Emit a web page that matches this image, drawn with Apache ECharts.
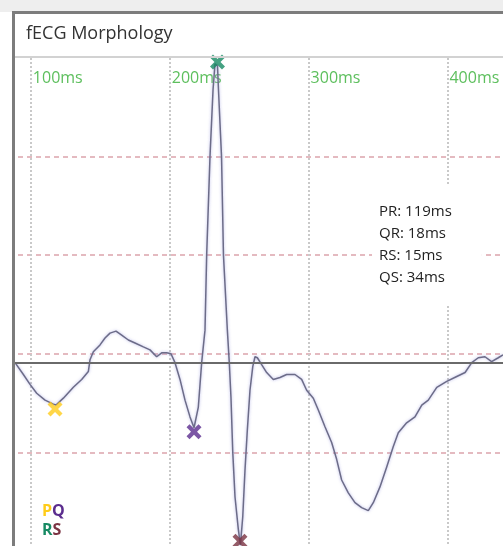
<!DOCTYPE html>
<html>
<head>
<meta charset="utf-8">
<script src="https://cdn.jsdelivr.net/npm/echarts@6/dist/echarts.min.js"></script>
<style>
  html, body { margin: 0; padding: 0; background: #fff; }
  #main { width: 503px; height: 546px; }
</style>
</head>
<body>
<div id="main"></div>
<script>
// fECG 파형 (시간 ms / 진폭, 기준선 = -9)
var timeMs = [88.6, 94.6, 99.4, 104.2, 110.2, 116.2, 118.1, 123.4, 130.6, 136.6,
  141.4, 142.6, 145.0, 149.8, 153.4, 157.0, 161.3, 165.4, 170.2, 175.0,
  181.0, 185.8, 190.6, 194.2, 197.8, 200.9, 203.8, 207.4, 211.0, 214.6,
  217.5, 220.6, 223.0, 225.4, 226.6, 229.0, 231.2, 232.6, 234.4, 235.1,
  237.3, 238.7, 241.5, 242.9, 244.1, 245.4, 247.0, 249.4, 250.9, 252.6,
  254.2, 255.9, 257.8, 259.8, 261.4, 263.1, 266.2, 269.8, 274.6, 279.4,
  284.2, 290.2, 295.0, 298.6, 303.4, 307.0, 311.8, 316.6, 320.2, 323.8,
  328.6, 333.4, 338.2, 343.0, 346.6, 351.4, 356.2, 361.0, 364.6, 370.6,
  376.6, 381.5, 386.2, 392.3, 399.5, 406.7, 412.7, 417.5, 422.2, 427.0,
  431.8, 436.6, 440.0];
var amplitude = [-9, -21, -31, -40, -47, -51, -52, -45, -34, -26,
  -18, -6, 2, 9, 16, 21, 23, 19, 14, 11,
  7, 4, -3, 1, 1, 0, -9, -26, -47, -64,
  -75, -54, -9, 24, 100, 200, 268, 294, 292, 268,
  200, 100, 24, -9, -44, -100, -145, -178, -194, -165,
  -118, -77, -37, -13, -3, -4, -11, -19, -26, -24,
  -21, -21, -26, -37, -45, -57, -74, -90, -107, -128,
  -141, -151, -156, -159, -151, -135, -115, -94, -80, -70,
  -64, -52, -47, -34, -28, -23, -19, -9, -4, -3,
  -8, -4, -1];
var baseline = -9;

var markNames = ['P', 'Q', 'R', 'S'];
var markTimes = [117.4, 217.5, 234.4, 250.6];
var markValues = [-56, -79, 296, -190];
var markColors = ['#ffcc1a', '#5b2d8e', '#178a63', '#7b3342'];

var intervalNames = ['PR', 'QR', 'RS', 'QS'];
var intervalValues = [119, 18, 15, 34];

var myChart = echarts.init(document.getElementById('main'));

var lineData = timeMs.map(function (t, i) { return [t, amplitude[i]]; });
var markSeries = markNames.map(function (n, i) {
    return {
        name: n,
        type: 'scatter',
        symbol: 'path://M2,0 L5,3 L8,0 L10,2 L7,5 L10,8 L8,10 L5,7 L2,10 L0,8 L3,5 L0,2 Z',
        symbolSize: 15,
        itemStyle: { color: markColors[i] },
        z: 5,
        data: [[markTimes[i], markValues[i]]]
    };
});

var intervalText = intervalNames.map(function (n, i) {
    return n + ': ' + intervalValues[i] + 'ms';
}).join('\n');

var option = {
    backgroundColor: '#fff',
    animation: false,
    title: {
        text: 'fECG Morphology',
        left: 26, top: 25, padding: 0,
        textStyle: { fontFamily: 'Open Sans', fontSize: 18, fontWeight: 'normal', color: '#333' }
    },
    grid: { left: -108, right: 0, top: 58, bottom: -5, outerBoundsMode: 'none' },
    xAxis: {
        type: 'value',
        position: 'top',
        min: 0, max: 440, interval: 100,
        axisLine: { show: false },
        axisTick: { show: false },
        axisLabel: {
            inside: true,
            showMinLabel: false,
            showMaxLabel: false,
            formatter: '{value}ms',
            color: '#5dbf5d',
            fontFamily: 'Open Sans',
            fontSize: 16,
            align: 'left',
            verticalAlign: 'middle',
            padding: [0, 0, 0, 2],
            margin: 20
        },
        splitLine: {
            showMaxLine: false,
            lineStyle: { color: '#c9c9c9', type: 'dotted', width: 2 }
        }
    },
    yAxis: {
        type: 'value',
        min: -200, max: 300, interval: 100,
        axisLine: { show: false },
        axisTick: { show: false },
        axisLabel: { show: false },
        splitLine: {
            showMinLine: false,
            showMaxLine: false,
            lineStyle: { color: '#dca4ac', type: [5, 4], width: 1.5 }
        }
    },
    series: [{
        type: 'line',
        data: lineData,
        symbol: 'none',
        z: 3,
        lineStyle: {
            color: '#6c6c88', width: 1.5,
            shadowColor: 'rgba(150,150,220,0.7)', shadowBlur: 3
        },
        markLine: {
            silent: true,
            symbol: 'none',
            label: { show: false },
            lineStyle: { color: '#6a6a6a', type: 'solid', width: 2 },
            data: [{ yAxis: baseline }]
        }
    }].concat(markSeries),
    graphic: [
        { type: 'rect', z: 100, shape: { x: 0, y: 0, width: 503, height: 12 }, style: { fill: '#eeeeee' } },
        { type: 'rect', z: 100, shape: { x: 0, y: 12, width: 12, height: 534 }, style: { fill: '#ffffff' } },
        { type: 'rect', z: 101, shape: { x: 12, y: 11, width: 491, height: 3 }, style: { fill: '#7c7c7c' } },
        { type: 'rect', z: 101, shape: { x: 12, y: 11, width: 3, height: 535 }, style: { fill: '#7c7c7c' } },
        { type: 'rect', z: 101, shape: { x: 15, y: 56, width: 488, height: 2 }, style: { fill: '#d2d2d2' } },
        {
            type: 'text', z: 90, left: 372, top: 186,
            style: {
                text: intervalText,
                fontFamily: 'Open Sans', fontSize: 15, lineHeight: 22,
                fill: '#222', backgroundColor: '#fff',
                padding: [15, 30, 15, 7]
            }
        },
        {
            type: 'text', z: 90, left: 42, top: 503,
            style: {
                rich: {
                    p: { fill: markColors[0], fontSize: 16, fontWeight: 'bold', fontFamily: 'Open Sans', lineHeight: 19 },
                    q: { fill: markColors[1], fontSize: 16, fontWeight: 'bold', fontFamily: 'Open Sans', lineHeight: 19 },
                    r: { fill: markColors[2], fontSize: 16, fontWeight: 'bold', fontFamily: 'Open Sans', lineHeight: 19 },
                    s: { fill: markColors[3], fontSize: 16, fontWeight: 'bold', fontFamily: 'Open Sans', lineHeight: 19 }
                },
                text: '{p|' + markNames[0] + '}{q|' + markNames[1] + '}\n{r|' + markNames[2] + '}{s|' + markNames[3] + '}'
            }
        }
    ]
};

myChart.setOption(option);

window.addEventListener('resize', function () {
    myChart.resize();
});
</script>
</body>
</html>
